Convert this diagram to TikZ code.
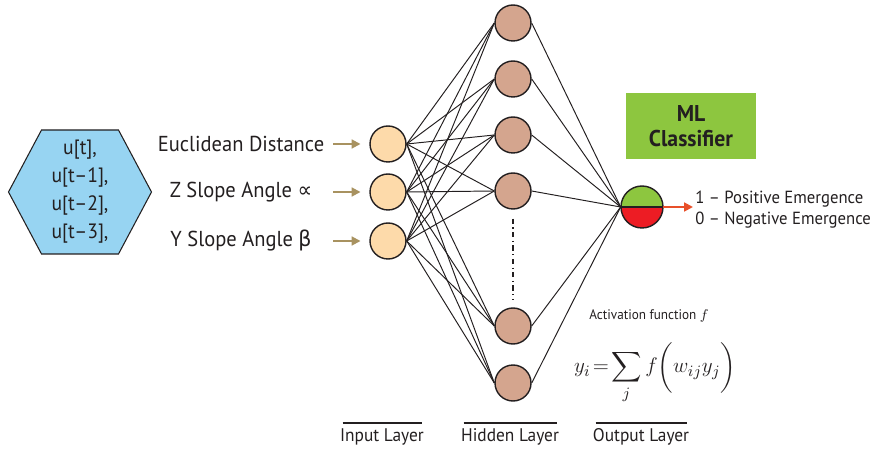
\documentclass[tikz,border=0pt]{standalone}
\usepackage{fontspec}
\setmainfont[FakeStretch=0.95]{PT Sans}
\newfontfamily\symfont[FakeStretch=0.95]{DejaVu Sans}
\usepackage{amsmath}
\usepackage{tikz}
\usetikzlibrary{arrows.meta}
\definecolor{inkgray}{RGB}{35,31,32}
\definecolor{hexblue}{RGB}{151,212,242}
\definecolor{inpeach}{RGB}{253,218,170}
\definecolor{hidbrown}{RGB}{212,165,142}
\definecolor{feedtan}{RGB}{168,146,96}
\definecolor{mlgreen}{RGB}{141,198,63}
\definecolor{outred}{RGB}{237,28,36}
\definecolor{outarrow}{RGB}{232,80,42}

\tikzset{
  innode/.style={circle, draw=inkgray, line width=0.8pt, fill=inpeach, minimum size=0.72cm, inner sep=0pt},
  hidnode/.style={circle, draw=inkgray, line width=0.8pt, fill=hidbrown, minimum size=0.72cm, inner sep=0pt},
  link/.style={inkgray, line width=0.55pt},
  feedarrow/.style={feedtan, line width=1.1pt, -{Triangle[length=5pt,width=5pt]}},
  layerbar/.style={inkgray, line width=1.7pt},
  featlabel/.style={text=inkgray, font=\fontsize{12.3}{14}\selectfont},
  layerlabel/.style={text=inkgray, font=\fontsize{10.4}{12}\selectfont}
}

\begin{document}
\begin{tikzpicture}[x=0.02cm, y=-0.02cm]
    \useasboundingbox (0,0) rectangle (875,452);

    % window of samples
    \coordinate (hexc) at (80,192);
    \draw[inkgray, line width=0.6pt, fill=hexblue] (hexc) ++(-71.5,0) -- ++(33,-62) -- ++(77,0)
      -- ++(33,62) -- ++(-33,62) -- ++(-77,0) -- cycle;
    \node[text=inkgray, align=center, inner sep=0pt, font=\fontsize{11.8}{15.9}\selectfont] (window) at (hexc)
          {u[t],\\u[t–1],\\u[t–2],\\u[t–3],};

    % input layer with features
    \foreach \y/\txt [count=\k] in {144/Euclidean Distance, 192/Z Slope Angle {\symfont ∝}, 241/Y Slope Angle {\symfont β}} {
      \node[featlabel] (feat\k) at (241,\y) {\txt};
      \node[innode] (in\k) at (388,\y) {};
      \coordinate (src\k) at (333,\y);
      \draw[feedarrow, shorten >=5pt] (src\k) -- (in\k.west);
    }

    % hidden layer
    \foreach \y [count=\k] in {23,79,135,191,326,383}
      \node[hidnode] (hid\k) at (513,\y) {};
    \draw[inkgray, line width=0.6pt, dash dot, shorten <=0.18cm, shorten >=0.16cm] (hid4.south) -- (hid5.north);

    % output node
    \node[circle, minimum size=0.84cm, inner sep=0pt] (out) at (642,207) {};
    \fill[mlgreen] (out.west) arc (180:0:0.42cm) -- cycle;
    \fill[outred] (out.west) arc (180:360:0.42cm) -- cycle;
    \draw[inkgray, line width=0.8pt] (out.center) circle (0.42cm);
    \draw[inkgray, line width=0.8pt] (out.west) -- (out.east);

    % weights
    \foreach \a in {1,2,3}
      \foreach \b in {1,...,6}
        \draw[link] (in\a.east) -- (hid\b.west);
    \foreach \b in {1,...,6}
      \draw[link] (hid\b.east) -- (out.west);

    % classifier result
    \coordinate (res) at (693,207);
    \draw[outarrow, line width=1.1pt, -{Triangle[length=5pt,width=5pt]}] (out.east) -- (res);
    \node[anchor=west, text=inkgray, align=left, inner sep=0pt, font=\fontsize{10}{12}\selectfont] (result) at (695,210)
      {1 – Positive Emergence\\0 – Negative Emergence};
    \node[fill=mlgreen, minimum width=2.62cm, minimum height=1.32cm, align=center, text=inkgray,
          font=\bfseries\fontsize{13}{14.5}\selectfont] (mlbox) at (691,126) {ML\\Classifier};

    % activation
    \node[text=inkgray, inner sep=1pt, font=\fontsize{7.9}{9}\selectfont] (actlabel) at (649,316) {Activation function $f$};
    \node[text=inkgray, inner sep=0pt, font=\fontsize{12.5}{15}\selectfont] (eqn) at (655,373) {$\displaystyle y_i\!=\!\sum_j f\biggl(w_{ij}y_j\biggr)$};

    % layer captions
    \foreach \x/\w/\txt [count=\k] in {382/79/Input Layer, 510/93/Hidden Layer, 641/91/Output Layer} {
      \coordinate (barL\k) at (\x-\w/2,423);
      \coordinate (barR\k) at (\x+\w/2,423);
      \draw[layerbar] (barL\k) -- (barR\k);
      \node[layerlabel] (cap\k) at (\x,437) {\txt};
    }
\end{tikzpicture}
\end{document}
